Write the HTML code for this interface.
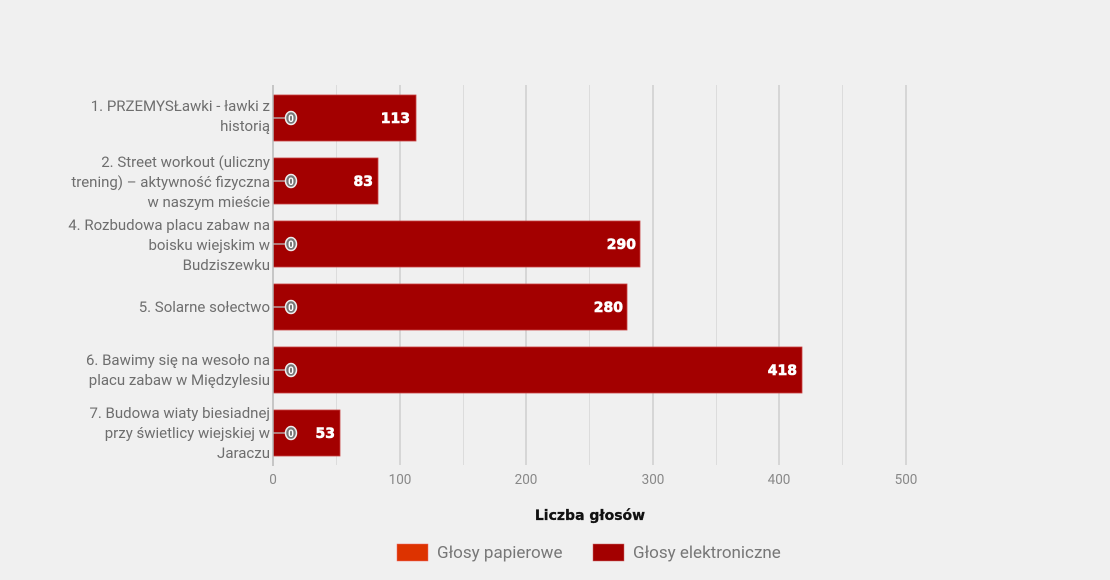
<!DOCTYPE html>
<html><head><meta charset="utf-8"><style>
html,body{margin:0;padding:0;background:#f0f0f0;}
svg{display:block;font-family:"Roboto","Liberation Sans",sans-serif;}
</style></head><body>
<svg width="1110" height="580" viewBox="0 0 1110 580" xmlns="http://www.w3.org/2000/svg">
<rect width="1110" height="580" fill="#f0f0f0"/>
<g stroke="#dcdcdc" stroke-width="1">
<line x1="336.5" y1="85" x2="336.5" y2="465"/><line x1="463.5" y1="85" x2="463.5" y2="465"/>
<line x1="589.5" y1="85" x2="589.5" y2="465"/><line x1="716.5" y1="85" x2="716.5" y2="465"/>
<line x1="842.5" y1="85" x2="842.5" y2="465"/>
</g>
<g stroke="#c8c8c8" stroke-width="1.3">
<line x1="400" y1="85" x2="400" y2="465"/><line x1="526" y1="85" x2="526" y2="465"/>
<line x1="653" y1="85" x2="653" y2="465"/><line x1="779" y1="85" x2="779" y2="465"/>
<line x1="906" y1="85" x2="906" y2="465"/>
</g>
<g fill="#a30000" stroke="#c94040" stroke-width="0.8">
<rect x="273" y="95" width="143" height="46"/>
<rect x="273" y="158" width="105" height="46"/>
<rect x="273" y="221" width="367" height="46"/>
<rect x="273" y="284" width="354" height="46"/>
<rect x="273" y="347" width="529" height="46"/>
<rect x="273" y="410" width="67" height="46"/>
</g>
<line x1="273" y1="85" x2="273" y2="466" stroke="#b8b8b8" stroke-width="1.5"/>
<g font-size="15" fill="#6e6e6e" text-anchor="end">
<text x="270" y="111">1. PRZEMYSŁawki - ławki z</text><text x="270" y="131">historią</text>
<text x="270" y="167">2. Street workout (uliczny</text><text x="270" y="187">trening) – aktywność fizyczna</text><text x="270" y="207">w naszym mieście</text>
<text x="270" y="230">4. Rozbudowa placu zabaw na</text><text x="270" y="250">boisku wiejskim w</text><text x="270" y="270">Budziszewku</text>
<text x="270" y="312">5. Solarne sołectwo</text>
<text x="270" y="365">6. Bawimy się na wesoło na</text><text x="270" y="385">placu zabaw w Międzylesiu</text>
<text x="270" y="418">7. Budowa wiaty biesiadnej</text><text x="270" y="438">przy świetlicy wiejskiej w</text><text x="270" y="458">Jaraczu</text>
</g>
<g>
<g stroke="#bbb" stroke-width="1.3"><line x1="273" y1="118" x2="286" y2="118"/><line x1="273" y1="181" x2="286" y2="181"/><line x1="273" y1="244" x2="286" y2="244"/><line x1="273" y1="307" x2="286" y2="307"/><line x1="273" y1="370" x2="286" y2="370"/><line x1="273" y1="433" x2="286" y2="433"/></g>
<g fill="#777" stroke="#eee" stroke-width="1.5">
<ellipse cx="291" cy="118" rx="5.5" ry="6.5"/><ellipse cx="291" cy="181" rx="5.5" ry="6.5"/><ellipse cx="291" cy="244" rx="5.5" ry="6.5"/><ellipse cx="291" cy="307" rx="5.5" ry="6.5"/><ellipse cx="291" cy="370" rx="5.5" ry="6.5"/><ellipse cx="291" cy="433" rx="5.5" ry="6.5"/>
</g>
<g font-size="10" font-weight="bold" fill="#fff" text-anchor="middle">
<text x="291" y="122">0</text><text x="291" y="185">0</text><text x="291" y="248">0</text><text x="291" y="311">0</text><text x="291" y="374">0</text><text x="291" y="437">0</text>
</g>
</g>
<g font-size="14" font-weight="900" fill="#fff" text-anchor="end" font-family="'DejaVu Sans','Liberation Sans',sans-serif" stroke="#fff" stroke-width="0.6">
<text x="410" y="123">113</text><text x="373" y="186">83</text><text x="636" y="249">290</text><text x="623" y="312">280</text><text x="797" y="375">418</text><text x="335" y="438">53</text>
</g>
<g font-size="13.5" fill="#888" text-anchor="middle">
<text x="273" y="484">0</text><text x="400" y="484">100</text><text x="526" y="484">200</text><text x="653" y="484">300</text><text x="779" y="484">400</text><text x="906" y="484">500</text>
</g>
<text x="590" y="520" font-size="14" font-weight="bold" fill="#111" text-anchor="middle" font-family="'DejaVu Sans','Liberation Sans',sans-serif" stroke="#111" stroke-width="0.3">Liczba głosów</text>
<rect x="397" y="544" width="31" height="17" fill="#dd3300" stroke="#e66" stroke-width="0.5"/>
<text x="437" y="558" font-size="17" fill="#777">Głosy papierowe</text>
<rect x="593" y="544" width="31" height="17" fill="#a30000" stroke="#c66" stroke-width="0.5"/>
<text x="633" y="558" font-size="17" fill="#777">Głosy elektroniczne</text>
</svg>
</body></html>
